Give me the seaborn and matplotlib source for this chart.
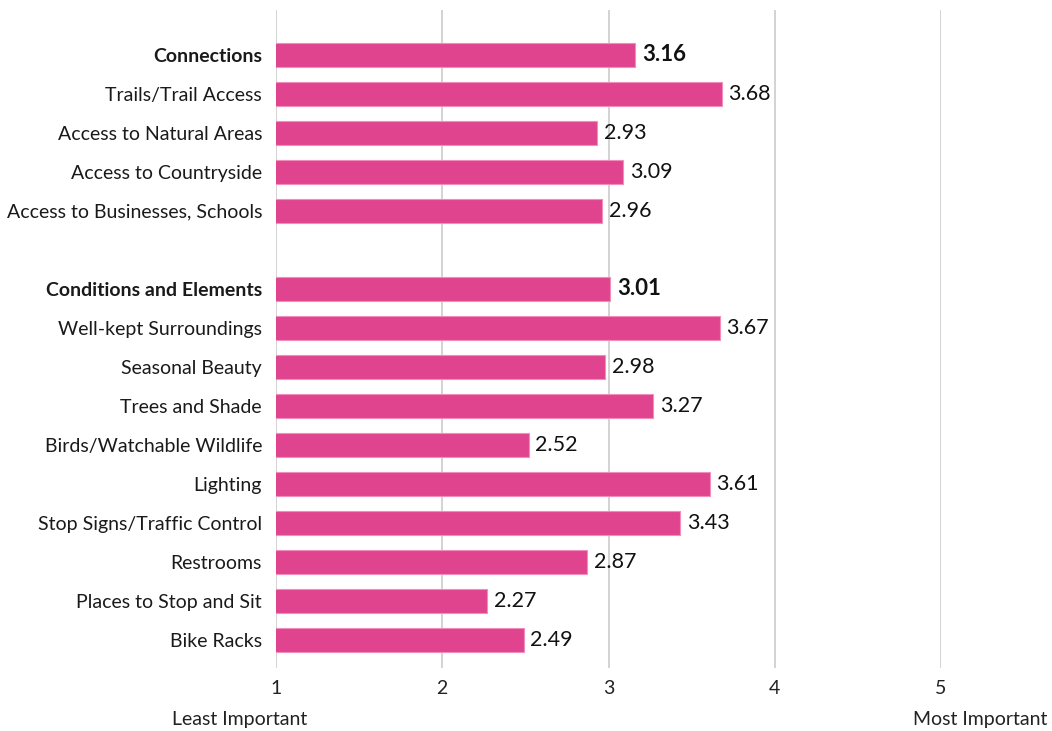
import matplotlib
matplotlib.use("Agg")
import matplotlib.pyplot as plt
import seaborn as sns
import pandas as pd
import numpy as np

categories = [
    "Connections", "Trails/Trail Access", "Access to Natural Areas",
    "Access to Countryside", "Access to Businesses, Schools",
    " ",
    "Conditions and Elements", "Well-kept Surroundings", "Seasonal Beauty",
    "Trees and Shade", "Birds/Watchable Wildlife", "Lighting",
    "Stop Signs/Traffic Control", "Restrooms", "Places to Stop and Sit",
    "Bike Racks",
]
scores = [3.16, 3.68, 2.93, 3.09, 2.96, np.nan,
          3.01, 3.67, 2.98, 3.27, 2.52, 3.61, 3.43, 2.87, 2.27, 2.49]
headers = ["Connections", "Conditions and Elements"]
tick_values = [1, 2, 3, 4, 5]
scale_ends = ["Least Important", "Most Important"]

sns.set_theme(style="white")
plt.rcParams["font.family"] = ["Lato", "DejaVu Sans"]

df = pd.DataFrame({"item": categories, "score": scores})

fig = plt.figure(figsize=(10.52, 7.31), dpi=100)
ax = fig.add_axes([276 / 1052, 1 - 668 / 731, (941 - 276) / 1052, (668 - 10) / 731])

sns.barplot(data=df, x="score", y="item", order=categories, orient="h",
            color="#E0448F", saturation=1, width=0.62, ax=ax,
            edgecolor="#F08DBA", linewidth=0.8)

ax.set_xlim(1, 5)
ax.set_ylim(15.72, -1.15)
ax.set_xticks(tick_values)
ax.set_xticklabels([str(t) for t in tick_values], fontsize=14, color="#222222")
ax.tick_params(axis="x", length=0, pad=9)
ax.tick_params(axis="y", length=0, pad=10)
for s in ax.spines.values():
    s.set_visible(False)
ax.grid(axis="x", color="#cccccc", linewidth=1.2)
ax.set_axisbelow(True)
ax.set_xlabel("")
ax.set_ylabel("")

for lbl in ax.get_yticklabels():
    lbl.set_fontsize(14)
    lbl.set_color("#1a1a1a")
    if lbl.get_text() in headers:
        lbl.set_fontweight("bold")

for i, (name, val) in enumerate(zip(categories, scores)):
    if np.isnan(val):
        continue
    bold = name in headers
    ax.text(val + 0.04, i, f"{val:.2f}", va="center", ha="left",
            fontsize=16 if bold else 15.5, color="#111111",
            fontweight="bold" if bold else "normal")

fig.text(240 / 1052, 1 - 719 / 731, scale_ends[0], ha="center", va="center",
         fontsize=14, color="#222222")
fig.text(1047 / 1052, 1 - 719 / 731, scale_ends[1], ha="right", va="center",
         fontsize=14, color="#222222")

fig.savefig("out.png", dpi=100)
